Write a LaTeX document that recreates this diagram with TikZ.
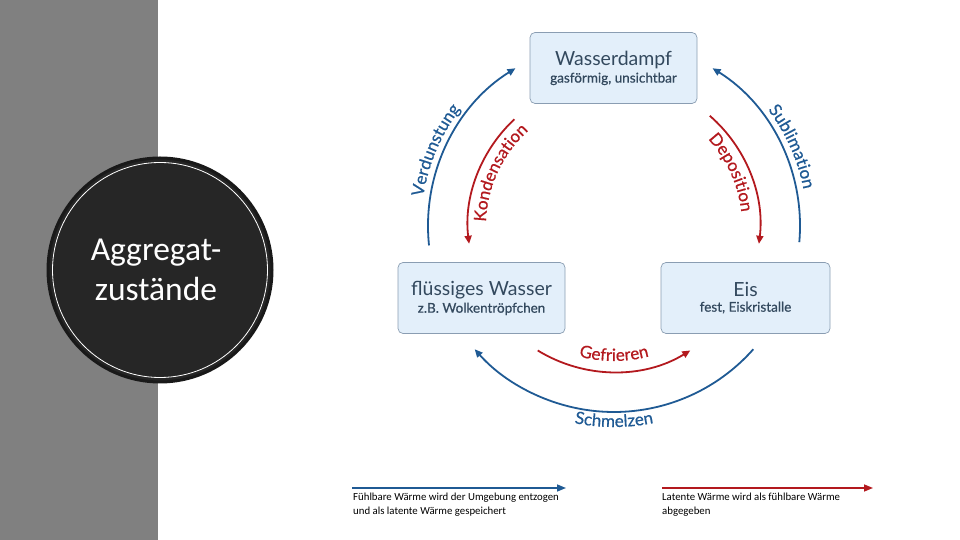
\documentclass[tikz,border=0pt]{standalone}
\usepackage{fontspec}
\setmainfont{Lato}
\newfontfamily\semib[FakeBold=0.6]{Lato}
\newfontfamily\calib{Carlito}
\usetikzlibrary{arrows.meta,decorations.text}
\definecolor{blu}{HTML}{1F5A94}
\definecolor{rd}{HTML}{B3191E}
\definecolor{boxfill}{HTML}{E3EFFA}
\definecolor{boxline}{HTML}{8A9DB2}
\definecolor{txt}{HTML}{33495E}
\definecolor{panel}{HTML}{808080}
\definecolor{disc}{HTML}{262626}
\begin{document}
\begin{tikzpicture}[x=1pt,y=1pt,
  state/.style={draw=boxline, fill=boxfill, rounded corners=5pt, line width=0.7pt,
    minimum width=167pt, minimum height=71pt, align=center, text=txt, inner sep=0pt},
  tip/.style={-{Triangle[length=8pt,width=7pt]}},
  bluarc/.style={draw=blu, line width=1.8pt, tip},
  redarc/.style={draw=rd, line width=1.8pt, tip},
  legtext/.style={anchor=north west, align=left, inner sep=0pt, font=\calib\fontsize{10.8}{14}\selectfont, text=black},
  lbl/.style={decorate, decoration={text along path, text align=center}}
]
\useasboundingbox (0,0) rectangle (960,540);
\fill[panel] (0,0) rectangle (158,540);

% title disc
\fill[disc, draw=black!90, line width=3pt] (160,270) circle (112);
\draw[white, line width=0.8pt] (160,270) circle (107.5);
\node[text=white, align=center, font=\calib\fontsize{33.5}{40}\selectfont] (title) at (156,270) {Aggregat-\\zustände};

% states
\node[state] (dampf) at (613.5,472) {{\fontsize{19.5}{22}\selectfont Wasserdampf}\\[3pt]{\semib\fontsize{13.5}{15}\selectfont gasförmig, unsichtbar}};
\node[state] (wasser) at (481.5,242) {{\fontsize{19.5}{22}\selectfont flüssiges Wasser}\\[3pt]{\semib\fontsize{13.5}{15}\selectfont z.B. Wolkentröpfchen}};
\node[state, minimum width=169pt] (eis) at (745.5,242) {{\fontsize{19.5}{22}\selectfont Eis}\\[3pt]{\semib\fontsize{13.5}{15}\selectfont fest, Eiskristalle}};

\coordinate (C) at (614,314);

% outer arcs (blue)
\draw[bluarc] ([shift={(186:186)}]C) arc[start angle=186, end angle=122, radius=186];
\draw[bluarc] ([shift={(-5:186)}]C) arc[start angle=-5, end angle=58, radius=186];
\draw[bluarc] ([shift={(-41.5:186)}]C) arc[start angle=-41.5, end angle=-138.5, radius=186];
% inner arcs (red)
\draw[redarc] ([shift={(133:146)}]C) arc[start angle=133, end angle=187, radius=146];
\draw[redarc] ([shift={(49:146)}]C) arc[start angle=49, end angle=-7, radius=146];
\draw[redarc] ([shift={(-121.5:146)}]C) arc[start angle=-121.5, end angle=-58.5, radius=146];

% arc labels
\path[lbl, decoration={text={|\semib\fontsize{17}{17}\selectfont\color{blu}|Verdunstung}}]
  ([shift={(192:193)}]C) arc[start angle=192, end angle=122, radius=193];
\path[lbl, decoration={text={|\semib\fontsize{17}{17}\selectfont\color{rd}|Kondensation}}]
  ([shift={(190:128)}]C) arc[start angle=190, end angle=120, radius=128];
\path[lbl, decoration={text={|\semib\fontsize{17}{17}\selectfont\color{blu}|Sublimation}}]
  ([shift={(59:193)}]C) arc[start angle=59, end angle=-11, radius=193];
\path[lbl, decoration={text={|\semib\fontsize{17}{17}\selectfont\color{rd}|Deposition}}]
  ([shift={(59:128)}]C) arc[start angle=59, end angle=-10, radius=128];
\path[lbl, decoration={text={|\semib\fontsize{17}{17}\selectfont\color{rd}|Gefrieren}}]
  ([shift={(-130:135)}]C) arc[start angle=-130, end angle=-50, radius=135];
\path[lbl, decoration={text={|\semib\fontsize{17}{17}\selectfont\color{blu}|Schmelzen}}]
  ([shift={(-130:201)}]C) arc[start angle=-130, end angle=-50, radius=201];

% legend
\coordinate (l1a) at (352,52);
\coordinate (l1b) at (566,52);
\coordinate (l2a) at (662,52);
\coordinate (l2b) at (873,52);
\draw[blu, line width=1.5pt, -{Triangle[length=9pt,width=7pt]}] (l1a) -- (l1b);
\draw[rd, line width=1.5pt, -{Triangle[length=9pt,width=7pt]}] (l2a) -- (l2b);
\node[legtext] (leg1) at (353,47) {Fühlbare Wärme wird der Umgebung entzogen\\und als latente Wärme gespeichert};
\node[legtext] (leg2) at (662,47) {Latente Wärme wird als fühlbare Wärme\\abgegeben};
\end{tikzpicture}
\end{document}
